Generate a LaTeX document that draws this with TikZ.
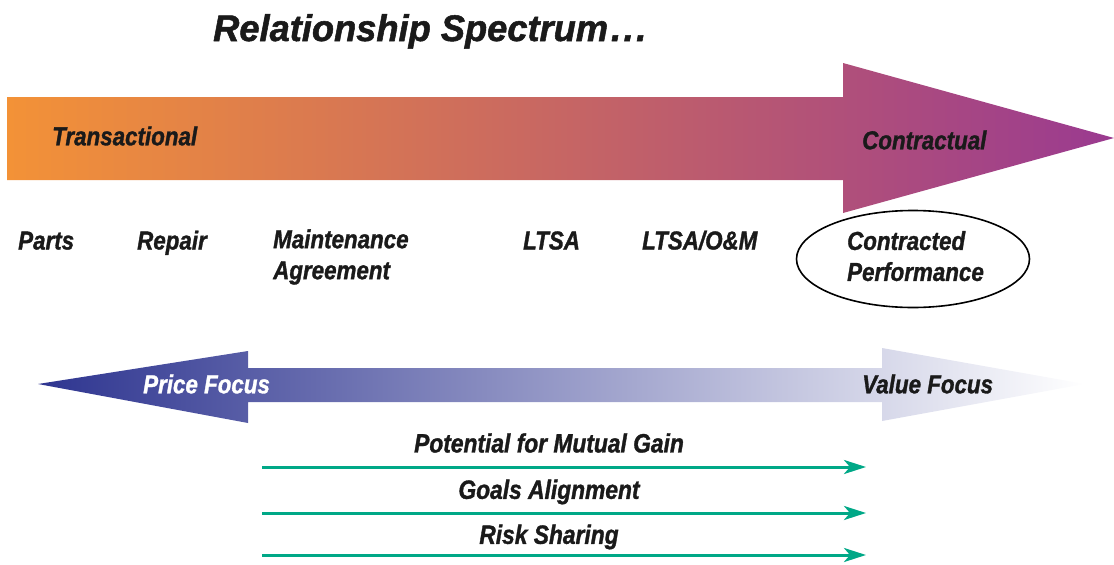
\documentclass[tikz,border=0pt]{standalone}
\usepackage{fontspec}
\newfontfamily\lab[FakeStretch=0.86,FakeBold=1.2]{Liberation Sans}
\newfontfamily\ttl[FakeStretch=0.98,FakeBold=1.4]{Liberation Sans}
\usetikzlibrary{arrows.meta,shapes.geometric}
\definecolor{org}{HTML}{F39237}
\definecolor{mid}{HTML}{CF6E6A}
\definecolor{pur}{HTML}{9A3A90}
\definecolor{dblue}{HTML}{2E3590}
\definecolor{mblue}{HTML}{8582BE}
\definecolor{grn}{HTML}{00A887}
\definecolor{txt}{HTML}{1A1A1A}
\tikzset{
  lbl/.style={font=\lab\bfseries\itshape\fontsize{26}{31}\selectfont, text=txt, inner sep=0pt, align=left},
  glbl/.style={font=\lab\bfseries\itshape\fontsize{26.5}{30}\selectfont, text=txt, inner sep=0pt},
  garrow/.style={draw=grn, line width=3pt, -{Stealth[length=22pt,width=14pt,inset=6pt]}},
}
\begin{document}
\begin{tikzpicture}[x=1pt,y=-1pt]
\useasboundingbox (0,0) rectangle (1114,565);
% top arrow
\shade[left color=org, middle color=mid, right color=pur]
  (7,97) -- (843,97) -- (843,63) -- (1114,138) -- (843,213) -- (843,180) -- (7,180) -- cycle;
% bottom arrow
\shade[left color=dblue, middle color=mblue, right color=white]
  (38,384) -- (248,351) -- (248,368) -- (882,368) -- (882,348) -- (1085,384) -- (882,421) -- (882,402) -- (248,402) -- (248,423) -- cycle;
% title
\node[font=\ttl\bfseries\itshape\fontsize{37}{41}\selectfont, text=txt, inner sep=0pt, anchor=base west] (title) at (213,41) {Relationship Spectrum\kern3pt.\kern2.5pt.\kern2.5pt.};
\node[lbl, anchor=west] (trans) at (52,136) {Transactional};
\node[lbl, anchor=west] (contr) at (862,140) {Contractual};
\node[lbl, anchor=base west] (parts) at (18,249.5) {Parts};
\node[lbl, anchor=base west] (repair) at (137,249.5) {Repair};
\node[lbl, anchor=west] (maint) at (273,257) {Maintenance\\Agreement};
\node[lbl, ellipse, draw=black, line width=1.6pt, minimum width=233pt, minimum height=97pt, inner sep=0pt] (perf) at (913,259) {\hspace*{5pt}Contracted\\\hspace*{5pt}Performance\rule[-6pt]{0pt}{0pt}};
\node[lbl, anchor=base west] (ltsa) at (523,249.5) {LTSA};
\node[lbl, anchor=base west] (ltsaom) at (642,249.5) {LTSA/O\&M};
\node[lbl, anchor=west, text=white] (price) at (143,384) {Price Focus};
\node[lbl, anchor=west] (value) at (862,384) {Value Focus};
% green arrows
\coordinate (g1s) at (262,467); \coordinate (g1e) at (866,467);
\coordinate (g2s) at (262,513); \coordinate (g2e) at (866,513);
\coordinate (g3s) at (262,555); \coordinate (g3e) at (866,555);
\draw[garrow] (g1s) -- (g1e);
\draw[garrow] (g2s) -- (g2e);
\draw[garrow] (g3s) -- (g3e);
\node[glbl] (gain) at (549,443) {Potential for Mutual Gain};
\node[glbl] (goals) at (549,492) {Goals Alignment};
\node[glbl] (risk) at (549,537) {Risk Sharing};
\end{tikzpicture}
\end{document}
